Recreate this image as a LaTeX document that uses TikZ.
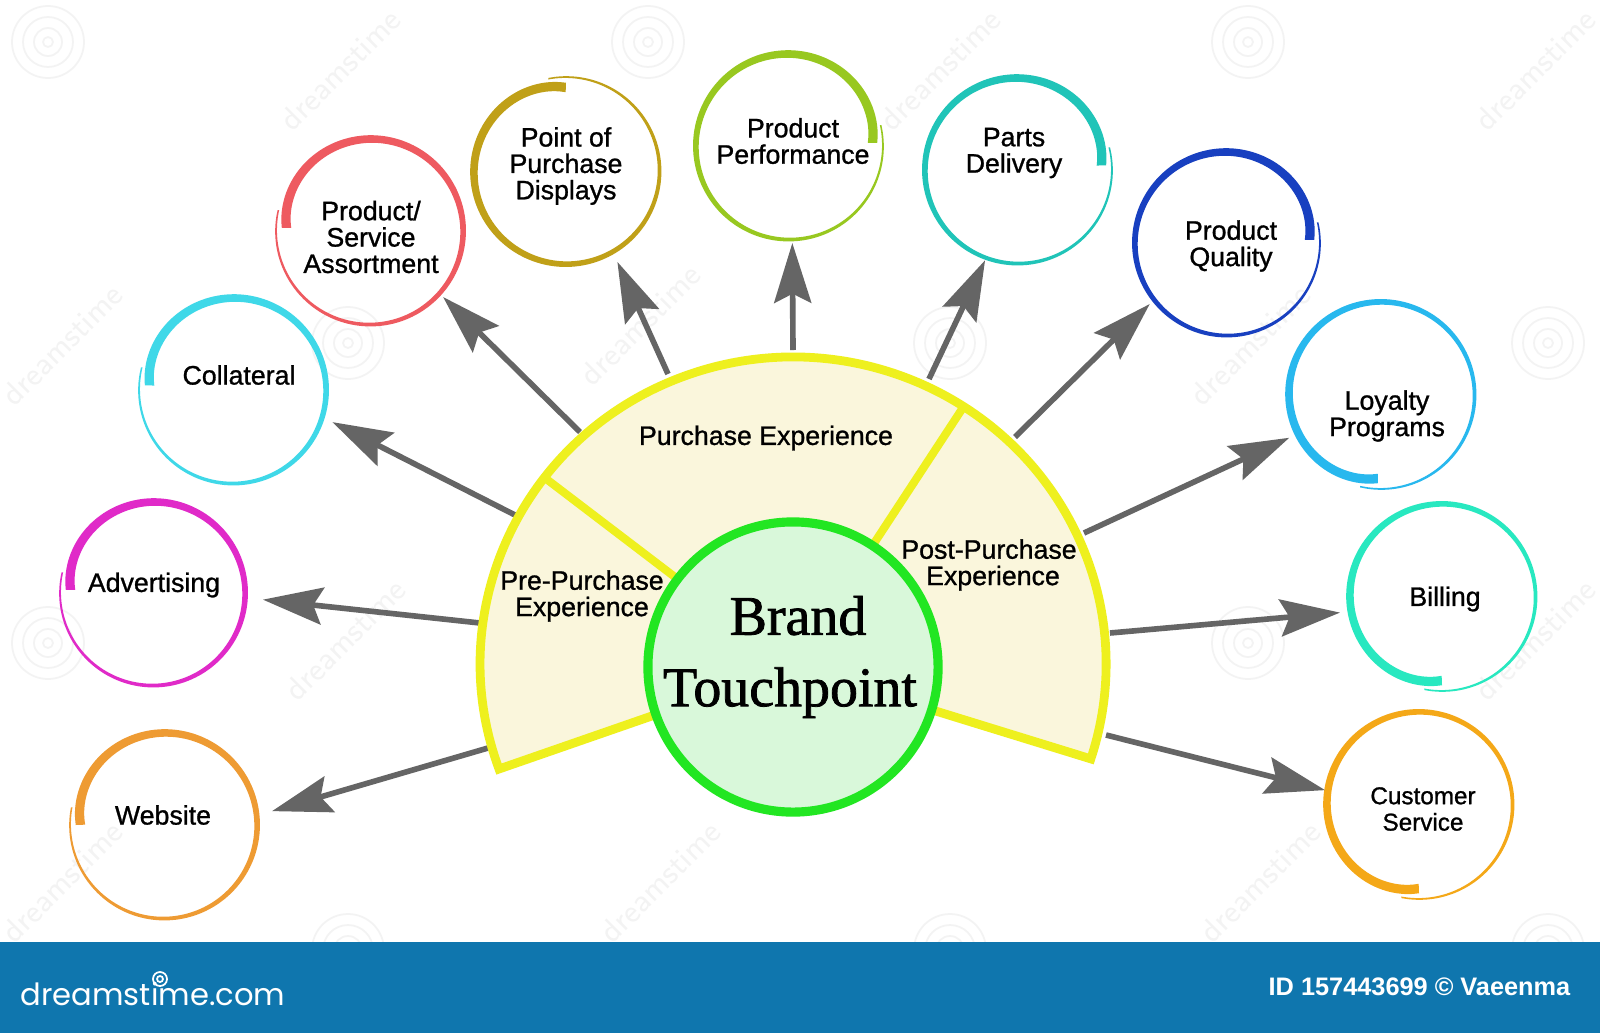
\documentclass[tikz,border=0pt]{standalone}
\usepackage{fontspec}
\setmainfont{Liberation Sans}
\newfontfamily\lab[FakeBold=1.0]{Liberation Sans}
\newfontfamily\hubfont[FakeBold=1.4]{Liberation Serif}
\newfontfamily\logofont{Poppins}
\usetikzlibrary{arrows.meta,calc}
\definecolor{fanline}{HTML}{EEF01E}
\definecolor{fanfill}{HTML}{FAF6DC}
\definecolor{hubline}{HTML}{22E622}
\definecolor{hubfill}{HTML}{D9F8DA}
\definecolor{arrowgray}{HTML}{656565}
\definecolor{banner}{HTML}{0F76AE}
\definecolor{wm}{HTML}{F3F3F3}
\definecolor{cWebsite}{HTML}{EE9B33}
\definecolor{cAdvert}{HTML}{E02AC8}
\definecolor{cCollat}{HTML}{3FD8E8}
\definecolor{cAssort}{HTML}{EE5A60}
\definecolor{cPoint}{HTML}{C0A018}
\definecolor{cPerf}{HTML}{98C820}
\definecolor{cParts}{HTML}{20C4B8}
\definecolor{cQuality}{HTML}{1840C0}
\definecolor{cLoyal}{HTML}{28B8EE}
\definecolor{cBilling}{HTML}{28E8C0}
\definecolor{cCustomer}{HTML}{F4A818}
\tikzset{
  ringnode/.style={circle,inner sep=0pt,outer sep=0pt,draw=none},
  tag/.style={align=center,inner sep=0pt,text=black,font=\lab\fontsize{7.6}{7.5}\selectfont},
  smalltag/.style={tag,font=\lab\fontsize{6.9}{7.5}\selectfont},
  pointer/.style={draw=arrowgray,line width=1.6pt,-{Stealth[length=17pt,width=10.5pt,inset=2.6pt]}},
  wmtext/.style={text=wm,rotate=45,font=\fontsize{9}{9}\selectfont\sffamily,inner sep=0pt},
}
% name, cx, cy, r, start angle (y points down), direction, colour
\newcommand{\ringat}[7]{%
  \node[ringnode,minimum size=#4*0.02cm] (#1) at (#2,#3) {};
  \fill[#7]
    plot[smooth,domain=0:1,samples=80,variable=\t]
      ({#2+(#4-2.5+1.5*\t-9*exp(-10*\t)+(9.5-8*\t)/2)*cos(#5+#6*371*\t)},
       {#3+(#4-2.5+1.5*\t-9*exp(-10*\t)+(9.5-8*\t)/2)*sin(#5+#6*371*\t)})
    -- plot[smooth,domain=1:0,samples=80,variable=\t]
      ({#2+(#4-2.5+1.5*\t-9*exp(-10*\t)-(9.5-8*\t)/2)*cos(#5+#6*371*\t)},
       {#3+(#4-2.5+1.5*\t-9*exp(-10*\t)-(9.5-8*\t)/2)*sin(#5+#6*371*\t)})
    -- cycle;
}
\newcommand{\wmspiral}[2]{%
  \draw[wm,line width=0.5pt] (#1,#2) circle[radius=36] (#1,#2) circle[radius=25] (#1,#2) circle[radius=14] (#1,#2) circle[radius=5];
}
\begin{document}
\begin{tikzpicture}[x=0.01cm,y=-0.01cm]
\useasboundingbox (0,0) rectangle (1600,1033);
\fill[white] (0,0) rectangle (1600,1033);
% watermark
\foreach \a/\b in {48/42,648/42,1248/42,348/343,950/343,1548/343,48/643,648/643,1248/643,348/950,950/950,1548/950}{\wmspiral{\a}{\b}}
\foreach \a/\b in {340/70,940/70,1535/70,62/345,640/325,1250/345,345/640,1535/640,62/882,660/882,1260/882}{\node[wmtext] at (\a,\b) {dreamstime};}
% banner
\fill[banner] (0,942) rectangle (1600,1033);
\node[anchor=base west,inner sep=0pt,text=white,font=\logofont\fontsize{8.7}{10}\selectfont] (logo) at (20,1005) {dreamstime.com};
\draw[white,line width=0.5pt] (160,979) circle[radius=7] (160,979) circle[radius=3];
\node[anchor=base east,inner sep=0pt,text=white,font=\fontsize{7.2}{8}\selectfont\bfseries] (credit) at (1571,995) {ID 157443699 © Vaeenma};
% rings
\ringat{website}{164}{825}{95}{180}{1}{cWebsite}
\ringat{advert}{153}{593}{94}{182}{1}{cAdvert}
\ringat{collat}{233}{390}{95}{183}{1}{cCollat}
\ringat{assort}{370}{231}{95}{182}{1}{cAssort}
\ringat{point}{566}{171}{95}{270}{-1}{cPoint}
\ringat{perf}{789}{146}{95}{-2}{-1}{cPerf}
\ringat{parts}{1018}{170}{95}{-3}{-1}{cParts}
\ringat{quality}{1227}{243}{94}{-2}{-1}{cQuality}
\ringat{loyal}{1381}{395}{95}{92}{1}{cLoyal}
\ringat{billing}{1442}{597}{95}{90}{1}{cBilling}
\ringat{customer}{1419}{805}{95}{90}{1}{cCustomer}
% arrow origins on the fan
\coordinate (oWebsite) at (488,748);
\coordinate (oAdvert) at (480,623);
\coordinate (oCollat) at (515,515);
\coordinate (oAssort) at (580,432);
\coordinate (oPoint) at (668,374);
\coordinate (oPerf) at (793,350);
\coordinate (oParts) at (929,379);
\coordinate (oQuality) at (1015,437);
\coordinate (oLoyal) at (1084,533);
\coordinate (oBilling) at (1110,633);
\coordinate (oCustomer) at (1106,735);
\draw[pointer,shorten >=0.14cm] (oWebsite) -- (website.6);
\draw[pointer,shorten >=0.16cm] (oAdvert) -- (advert.-3.9);
\draw[pointer,shorten >=0.095cm] (oCollat) -- (collat.-17.6);
\draw[pointer,shorten >=0.034cm] (oAssort) -- (assort.-42.9);
\draw[pointer,shorten >=0.094cm] (oPoint) -- (point.-60.3);
\draw[pointer,shorten >=0.02cm] (oPerf) -- (perf.-88.2);
\draw[pointer,shorten >=0.01cm] (oParts) -- (parts.-110.1);
\draw[pointer,shorten >=0.044cm] (oQuality) -- (quality.-142.8);
\draw[pointer,shorten >=0.061cm] (oLoyal) -- (loyal.-155.5);
\draw[pointer,shorten >=0.081cm] (oBilling) -- (billing.-171.3);
\draw[pointer] (oCustomer) -- (customer.171.8);
% fan
\coordinate (fanBL) at (499,769);
\coordinate (hubC) at (793,667);
\coordinate (divLa) at (545,478);
\coordinate (divRa) at (964,406);
\fill[fanfill] (fanBL) arc[start angle=160,end angle=378,x radius=313,y radius=307] -- (hubC) -- cycle;
\draw[fanline,line width=2.3pt] (divLa) -- (hubC) (divRa) -- (hubC);
\draw[fanline,line width=2.5pt,miter limit=10] (hubC) -- (fanBL) arc[start angle=160,end angle=378,x radius=313,y radius=307] -- cycle;
% hub
\node[circle,draw=hubline,fill=hubfill,line width=2.6pt,minimum size=2.9cm,inner sep=0pt] (hub) at (hubC) {};
\node[inner sep=0pt,align=center,font=\hubfont\fontsize{15.9}{20.3}\selectfont] (hubtext) at (790,657) {\hspace*{0.16cm}Brand\\Touchpoint};
% labels
\node[tag] (tWebsite) at (163,815) {Website};
\node[tag] (tAdvert) at (154,585) {Advertising};
\node[tag] (tCollat) at (239,375) {Collateral};
\node[tag] (tAssort) at (371,237) {Product/\\Service\\Assortment};
\node[tag] (tPoint) at (566,166) {Point of\\Purchase\\Displays};
\node[tag] (tPerf) at (793,141) {Product\\Performance};
\node[tag] (tParts) at (1014,153) {Parts\\Delivery};
\node[tag] (tQuality) at (1231,246) {Product\\Quality};
\node[tag] (tLoyal) at (1387,416) {Loyalty\\Programs};
\node[tag] (tBilling) at (1445,599) {Billing};
\node[smalltag] (tCustomer) at (1423,809) {Customer\\Service};
\node[tag] (tPurchase) at (766,438) {Purchase Experience};
\node[tag] (tPre) at (582,596) {Pre-Purchase\\Experience};
\node[tag] (tPost) at (989,565) {Post-Purchase\\\hspace*{0.08cm}Experience};
\end{tikzpicture}
\end{document}
